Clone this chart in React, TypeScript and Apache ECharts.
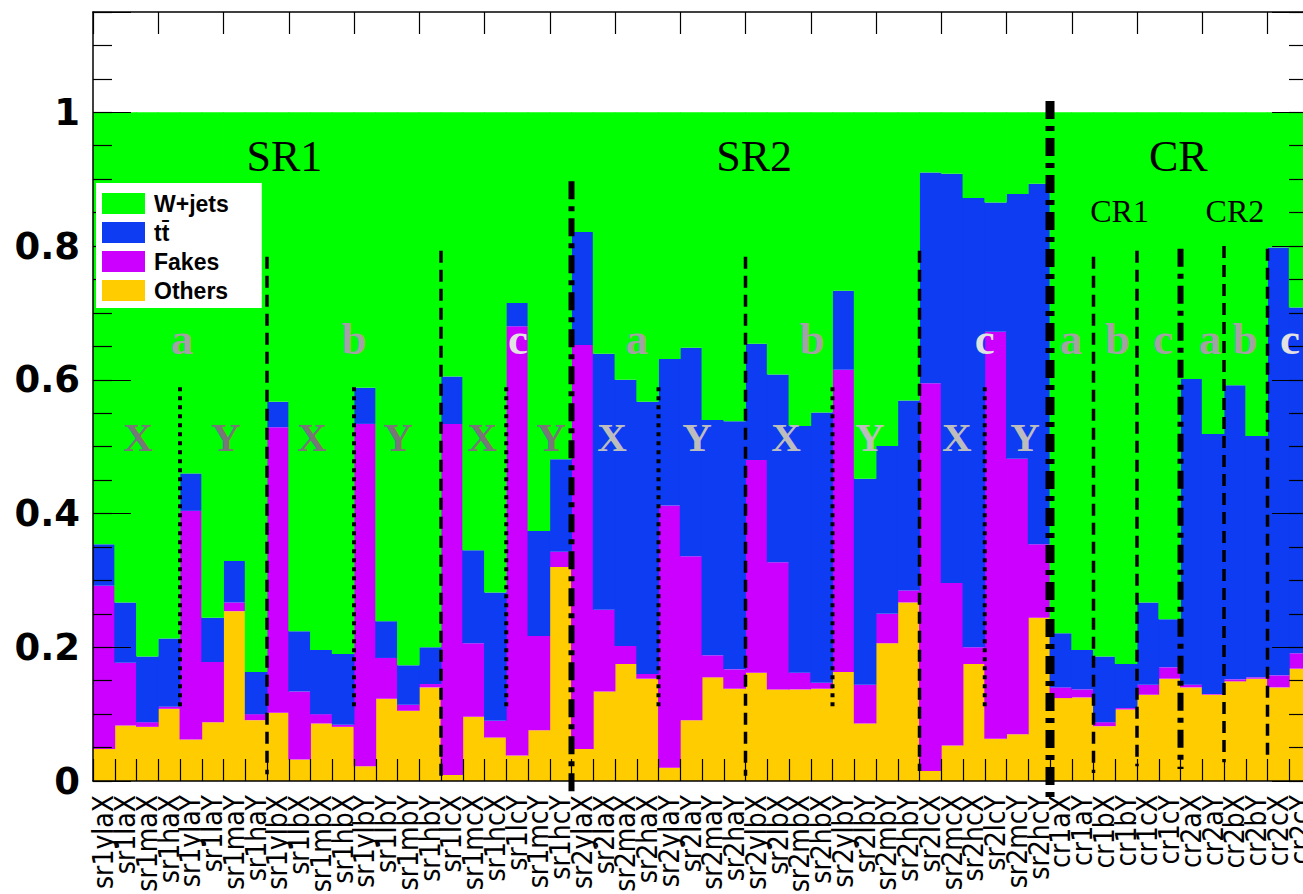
import React, { useEffect, useRef } from 'react';
import * as echarts from 'echarts';

// Bin labels, left to right: SR1 (22 bins), SR2 (22 bins), CR (12 bins)
const categories = [
  'sr1ylaX', 'sr1laX', 'sr1maX', 'sr1haX', 'sr1ylaY', 'sr1laY', 'sr1maY', 'sr1haY',
  'sr1ylbX', 'sr1lbX', 'sr1mbX', 'sr1hbX', 'sr1ylbY', 'sr1lbY', 'sr1mbY', 'sr1hbY',
  'sr1lcX', 'sr1mcX', 'sr1hcX', 'sr1lcY', 'sr1mcY', 'sr1hcY',
  'sr2ylaX', 'sr2laX', 'sr2maX', 'sr2haX', 'sr2ylaY', 'sr2laY', 'sr2maY', 'sr2haY',
  'sr2ylbX', 'sr2lbX', 'sr2mbX', 'sr2hbX', 'sr2ylbY', 'sr2lbY', 'sr2mbY', 'sr2hbY',
  'sr2lcX', 'sr2mcX', 'sr2hcX', 'sr2lcY', 'sr2mcY', 'sr2hcY',
  'cr1aX', 'cr1aY', 'cr1bX', 'cr1bY', 'cr1cX', 'cr1cY',
  'cr2aX', 'cr2aY', 'cr2bX', 'cr2bY', 'cr2cX', 'cr2cY',
];

// Background fractions per bin (stacked bottom to top: Others, Fakes, ttbar, W+jets)
const others = [
  0.048, 0.083, 0.081, 0.108, 0.062, 0.088, 0.254, 0.091, 0.102, 0.032, 0.086, 0.081,
  0.022, 0.123, 0.105, 0.140, 0.009, 0.096, 0.065, 0.038, 0.076, 0.320,
  0.048, 0.134, 0.175, 0.153, 0.020, 0.091, 0.155, 0.138, 0.162, 0.137, 0.137, 0.138,
  0.163, 0.086, 0.206, 0.267, 0.015, 0.053, 0.175, 0.063, 0.070, 0.244,
  0.124, 0.125, 0.082, 0.107, 0.129, 0.153, 0.140, 0.129, 0.149, 0.153, 0.140, 0.168,
];
const fakes = [
  0.244, 0.094, 0.007, 0.003, 0.342, 0.090, 0.013, 0.009, 0.427, 0.102, 0.014, 0.003,
  0.512, 0.061, 0.009, 0.005, 0.525, 0.110, 0.025, 0.642, 0.141, 0.023,
  0.604, 0.122, 0.027, 0.007, 0.392, 0.245, 0.033, 0.029, 0.318, 0.190, 0.025, 0.009,
  0.452, 0.058, 0.044, 0.018, 0.580, 0.243, 0.025, 0.609, 0.412, 0.110,
  0.016, 0.012, 0.006, 0.002, 0.015, 0.017, 0.004, 0.001, 0.003, 0.002, 0.018, 0.023,
];
const ttbar = [
  0.062, 0.090, 0.098, 0.102, 0.056, 0.066, 0.062, 0.063, 0.038, 0.090, 0.096, 0.106,
  0.054, 0.055, 0.059, 0.055, 0.071, 0.139, 0.192, 0.035, 0.157, 0.138,
  0.169, 0.383, 0.398, 0.407, 0.219, 0.312, 0.352, 0.371, 0.174, 0.281, 0.369, 0.404,
  0.118, 0.308, 0.251, 0.284, 0.315, 0.612, 0.672, 0.193, 0.396, 0.539,
  0.081, 0.059, 0.098, 0.066, 0.123, 0.072, 0.457, 0.389, 0.440, 0.361, 0.640, 0.517,
];
const wjets = [
  0.646, 0.733, 0.814, 0.787, 0.540, 0.756, 0.671, 0.837, 0.433, 0.776, 0.804, 0.810,
  0.412, 0.761, 0.827, 0.800, 0.395, 0.655, 0.718, 0.285, 0.626, 0.519,
  0.179, 0.361, 0.400, 0.433, 0.369, 0.352, 0.460, 0.462, 0.346, 0.392, 0.469, 0.449,
  0.267, 0.548, 0.499, 0.431, 0.090, 0.092, 0.128, 0.135, 0.122, 0.107,
  0.779, 0.804, 0.814, 0.825, 0.733, 0.758, 0.399, 0.481, 0.408, 0.484, 0.202, 0.292,
];

const yTickLabels = ['0', '0.2', '0.4', '0.6', '0.8', '1'];
const legendNames = ['W+jets', 'tt\u0304', 'Fakes', 'Others'];

const COLORS = {
  wjets: '#00ff00',
  ttbar: '#0d3cf2',
  fakes: '#cc00ff',
  others: '#ffcc00',
};

// Region dividers, placed on bin edges (edge index, top and bottom in y units)
const dividers = [
  { edge: 4, top: 0.589, bottom: 0.109, kind: 'dot' },
  { edge: 12, top: 0.589, bottom: 0.109, kind: 'dot' },
  { edge: 19, top: 0.589, bottom: 0.109, kind: 'dot' },
  { edge: 26, top: 0.589, bottom: 0.109, kind: 'dot' },
  { edge: 34, top: 0.589, bottom: 0.109, kind: 'dot' },
  { edge: 41, top: 0.589, bottom: 0.109, kind: 'dot' },
  { edge: 8, top: 0.784, bottom: 0.010, kind: 'dash' },
  { edge: 16, top: 0.793, bottom: 0.008, kind: 'dash' },
  { edge: 30, top: 0.784, bottom: 0.008, kind: 'dash' },
  { edge: 38, top: 0.793, bottom: 0.015, kind: 'dash' },
  { edge: 46, top: 0.784, bottom: 0.012, kind: 'dash' },
  { edge: 48, top: 0.793, bottom: 0.022, kind: 'dash' },
  { edge: 52, top: 0.800, bottom: 0.028, kind: 'dash' },
  { edge: 54, top: 0.796, bottom: 0.032, kind: 'dash' },
  { edge: 50, top: 0.796, bottom: 0.018, kind: 'dashdot' },
  { edge: 22, top: 0.897, bottom: -0.024, kind: 'dashdot' },
  { edge: 44, top: 1.017, bottom: -0.028, kind: 'heavy' },
];

const lineKinds: Record<string, { width: number; dash: number[] }> = {
  dot: { width: 4, dash: [4, 5] },
  dash: { width: 3.5, dash: [12, 7] },
  dashdot: { width: 6, dash: [18, 7, 5, 7] },
  heavy: { width: 9, dash: [18, 7, 5, 7] },
};

// Region and sub-region captions, positioned in bin / y units
const captions = [
  { x: 8.8, y: 0.934, text: 'SR1', kind: 'region' },
  { x: 30.4, y: 0.934, text: 'SR2', kind: 'region' },
  { x: 49.9, y: 0.934, text: 'CR', kind: 'region' },
  { x: 47.2, y: 0.853, text: 'CR1', kind: 'sub' },
  { x: 52.5, y: 0.853, text: 'CR2', kind: 'sub' },
  { x: 4.09, y: 0.661, text: 'a', kind: 'grey' },
  { x: 12.0, y: 0.661, text: 'b', kind: 'grey' },
  { x: 19.54, y: 0.661, text: 'c', kind: 'pale' },
  { x: 25.0, y: 0.661, text: 'a', kind: 'grey' },
  { x: 33.06, y: 0.661, text: 'b', kind: 'grey' },
  { x: 41.0, y: 0.661, text: 'c', kind: 'pale' },
  { x: 44.97, y: 0.661, text: 'a', kind: 'grey' },
  { x: 47.1, y: 0.661, text: 'b', kind: 'grey' },
  { x: 49.2, y: 0.661, text: 'c', kind: 'grey' },
  { x: 51.36, y: 0.661, text: 'a', kind: 'grey' },
  { x: 52.97, y: 0.661, text: 'b', kind: 'grey' },
  { x: 55.03, y: 0.661, text: 'c', kind: 'pale' },
  { x: 2.07, y: 0.514, text: 'X', kind: 'dark' },
  { x: 6.11, y: 0.514, text: 'Y', kind: 'dark' },
  { x: 10.07, y: 0.514, text: 'X', kind: 'dark' },
  { x: 14.02, y: 0.514, text: 'Y', kind: 'dark' },
  { x: 17.9, y: 0.514, text: 'X', kind: 'dark' },
  { x: 21.06, y: 0.514, text: 'Y', kind: 'dark' },
  { x: 23.86, y: 0.514, text: 'X', kind: 'light' },
  { x: 27.77, y: 0.514, text: 'Y', kind: 'light' },
  { x: 31.86, y: 0.514, text: 'X', kind: 'light' },
  { x: 35.72, y: 0.514, text: 'Y', kind: 'light' },
  { x: 39.72, y: 0.514, text: 'X', kind: 'light' },
  { x: 42.85, y: 0.514, text: 'Y', kind: 'light' },
];

const captionStyles: Record<string, any> = {
  region: { fontSize: 44, fontWeight: 'normal', fill: '#000000' },
  sub: { fontSize: 32, fontWeight: 'normal', fill: '#000000' },
  grey: { fontSize: 45, fontWeight: 'bold', fill: '#a2a2a2' },
  pale: { fontSize: 45, fontWeight: 'bold', fill: '#e2e2e2' },
  dark: { fontSize: 41, fontWeight: 'bold', fill: '#777777' },
  light: { fontSize: 41, fontWeight: 'bold', fill: '#bdbdbd' },
};

const SANS = '"Liberation Sans", Arial, sans-serif';
const NARROW = '"Liberation Sans Narrow", "Arial Narrow", "DejaVu Sans Condensed", sans-serif';
const SERIF = '"Liberation Serif", "Times New Roman", serif';

const CHART_W = 1303;
const CHART_H = 894;

function yLabel(v: number): string {
  const i = Math.round(v / 0.2);
  if (Math.abs(v - i * 0.2) < 1e-6 && i >= 0 && i < yTickLabels.length) return yTickLabels[i];
  return '';
}

function buildOption(): any {
  const barSeries = [
    { name: 'Others', data: others, color: COLORS.others },
    { name: 'Fakes', data: fakes, color: COLORS.fakes },
    { name: 'tt\u0304', data: ttbar, color: COLORS.ttbar },
    { name: 'W+jets', data: wjets, color: COLORS.wjets },
  ].map((s) => ({
    type: 'bar',
    name: s.name,
    stack: 'frac',
    data: s.data,
    xAxisIndex: 0,
    yAxisIndex: 0,
    // slightly wider than the bin so neighbouring bins meet without seams
    barWidth: '104%',
    itemStyle: { color: s.color },
    silent: true,
    z: 2,
  }));

  const axisLine = { show: true, onZero: false, lineStyle: { color: '#000', width: 1.5 } };

  return {
    animation: false,
    textStyle: { fontFamily: SANS },
    // the plot frame runs 8px past the right edge of the canvas (last bin is cut)
    grid: { left: 93, top: 12, right: -8, bottom: 113, containLabel: false, outerBoundsMode: 'none' },
    legend: {
      data: legendNames,
      orient: 'vertical',
      left: 96,
      top: 183,
      padding: [9, 33, 6, 6],
      backgroundColor: '#ffffff',
      itemWidth: 43,
      itemHeight: 21,
      itemGap: 6,
      icon: 'rect',
      z: 20,
      selectedMode: false,
      textStyle: { fontFamily: SANS, fontSize: 23, fontWeight: 'bold', color: '#000', padding: [0, 0, 0, 4] },
    },
    xAxis: [
      {
        type: 'category',
        data: categories,
        position: 'bottom',
        z: 10,
        axisLine,
        axisTick: { show: true, inside: true, length: 22, lineStyle: { color: '#000', width: 1.2 } },
        axisLabel: {
          interval: 0,
          rotate: 90,
          margin: 14,
          fontFamily: NARROW,
          fontSize: 28,
          color: '#000',
        },
        splitLine: { show: false },
      },
      {
        type: 'category',
        data: categories,
        position: 'top',
        z: 10,
        axisLine,
        axisTick: { show: true, inside: true, length: 22, lineStyle: { color: '#000', width: 1.2 } },
        axisLabel: { show: false },
        splitLine: { show: false },
      },
      {
        type: 'value',
        min: 0,
        max: categories.length,
        show: false,
        position: 'bottom',
        axisLine: { onZero: false },
        splitLine: { show: false },
      },
    ],
    yAxis: [
      {
        type: 'value',
        min: 0,
        max: 1.15,
        interval: 0.05,
        position: 'left',
        z: 10,
        axisLine,
        axisTick: { show: true, inside: true, length: 19, lineStyle: { color: '#000', width: 1.2 } },
        axisLabel: {
          formatter: yLabel,
          margin: 13,
          fontFamily: '"DejaVu Sans", sans-serif',
          fontWeight: 'bold',
          fontSize: 37,
          color: '#000',
        },
        splitLine: { show: false },
      },
      {
        type: 'value',
        min: 0,
        max: 1.15,
        interval: 0.2,
        position: 'left',
        z: 10,
        axisLine: { show: false, onZero: false },
        axisTick: { show: true, inside: true, length: 38, lineStyle: { color: '#000', width: 1.2 } },
        axisLabel: { show: false },
        splitLine: { show: false },
      },
      {
        type: 'value',
        min: 0,
        max: 1.15,
        interval: 0.05,
        position: 'right',
        z: 10,
        axisLine,
        axisTick: { show: true, inside: true, length: 22, lineStyle: { color: '#000', width: 1.2 } },
        axisLabel: { show: false },
        splitLine: { show: false },
      },
      {
        type: 'value',
        min: 0,
        max: 1.15,
        interval: 0.2,
        position: 'right',
        z: 10,
        axisLine: { show: false, onZero: false },
        axisTick: { show: true, inside: true, length: 39, lineStyle: { color: '#000', width: 1.2 } },
        axisLabel: { show: false },
        splitLine: { show: false },
      },
    ],
    series: [
      ...barSeries,
      {
        type: 'custom',
        name: 'dividers',
        xAxisIndex: 2,
        yAxisIndex: 0,
        silent: true,
        clip: false,
        z: 5,
        data: dividers.map((d) => [d.edge, d.top]),
        renderItem: (params: any, api: any) => {
          const d = dividers[params.dataIndex];
          const p1 = api.coord([d.edge, d.top]);
          const p2 = api.coord([d.edge, d.bottom]);
          const k = lineKinds[d.kind];
          return {
            type: 'line',
            shape: { x1: p1[0], y1: p1[1], x2: p2[0], y2: p2[1] },
            style: { stroke: '#000000', lineWidth: k.width, lineDash: k.dash, lineCap: 'butt' },
          };
        },
      },
      {
        type: 'custom',
        name: 'captions',
        xAxisIndex: 2,
        yAxisIndex: 0,
        silent: true,
        clip: false,
        z: 6,
        data: captions.map((c) => [c.x, c.y]),
        renderItem: (params: any, api: any) => {
          const c = captions[params.dataIndex];
          const p = api.coord([c.x, c.y]);
          const st = captionStyles[c.kind];
          return {
            type: 'text',
            x: p[0],
            y: p[1],
            style: {
              text: c.text,
              fill: st.fill,
              fontSize: st.fontSize,
              fontWeight: st.fontWeight,
              fontFamily: SERIF,
              align: 'center',
              verticalAlign: 'middle',
            },
          };
        },
      },
    ],
  };
}

export default function App() {
  const ref = useRef<HTMLDivElement>(null);
  useEffect(() => {
    if (!ref.current) return;
    const chart = echarts.init(ref.current, undefined, { renderer: 'svg' });
    chart.setOption(buildOption());
    return () => chart.dispose();
  }, []);
  return (
    <div
      ref={ref}
      style={{ position: 'fixed', left: 0, top: 0, width: CHART_W, height: CHART_H, background: '#ffffff' }}
    />
  );
}
